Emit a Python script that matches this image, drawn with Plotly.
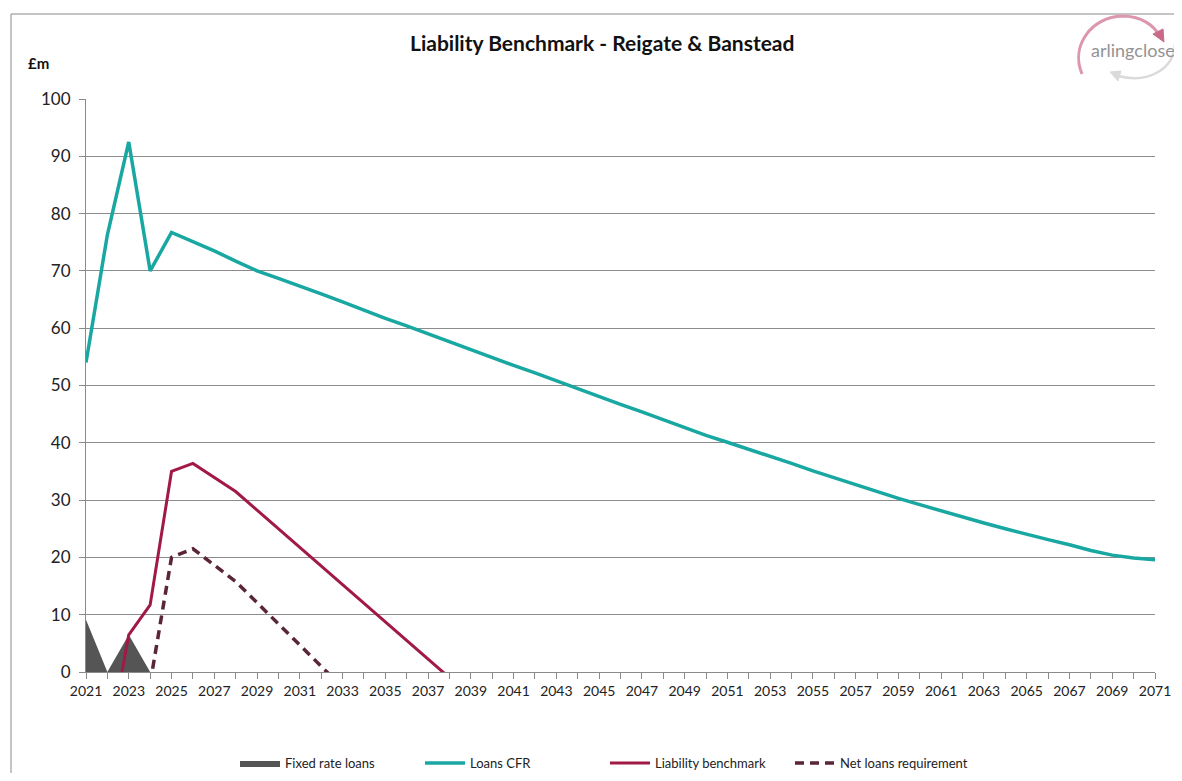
import plotly.graph_objects as go

years = list(range(2021, 2072))

fixed_rate_loans = [9.1, 0, 6.5, 0] + [0] * 47

loans_cfr = [54.0, 76.3, 92.5, 70.0, 76.7, 75.1, 73.5, 71.7, 70.0, 68.7,
             67.4, 66.0, 64.6, 63.1, 61.7, 60.4, 59.0, 57.6, 56.2, 54.8,
             53.5, 52.2, 50.8, 49.4, 48.0, 46.7, 45.4, 44.0, 42.6, 41.3,
             40.1, 38.9, 37.6, 36.4, 35.1, 33.9, 32.6, 31.4, 30.3, 29.2,
             28.1, 27.0, 26.0, 25.0, 24.0, 23.1, 22.2, 21.2, 20.4, 19.9,
             19.6]

liability_benchmark = [None, -14.0, 6.5, 11.7, 35.0, 36.4, 34.0, 31.5, 28.25, 25.0,
                       21.75, 18.5, 15.25, 12.0, 8.75, 5.5, 2.25, -1.0] + [None] * 33

net_loans_requirement = [None, None, None, -2.0, 20.0, 21.5, 18.6, 15.8, 12.1, 8.4,
                         4.7, 1.0, -2.7] + [None] * 38

y_ticks = list(range(0, 101, 10))
x_ticks = list(range(2021, 2072, 2))

# layout geometry (page pixels; the page body has an 8px margin)
OFF = 8
W, H = 1182 - 2 * OFF, 781 - 2 * OFF
PLOT_L, PLOT_R, PLOT_T, PLOT_B = 86, 1155, 99, 672   # page coords of plot area
L = PLOT_L - OFF
T = PLOT_T - OFF
PW = PLOT_R - PLOT_L
PH = PLOT_B - PLOT_T
R = W - L - PW
B = H - T - PH


def px(x, y):
    """page pixel -> paper coords"""
    return (x - PLOT_L) / PW, (PLOT_B - y) / PH


fig = go.Figure()

fig.add_trace(go.Scatter(
    x=years, y=fixed_rate_loans, name="Fixed rate loans", mode="lines",
    fill="tozeroy", fillcolor="#555555", line=dict(width=0, color="#555555"),
))
fig.add_trace(go.Scatter(
    x=years, y=loans_cfr, name="Loans CFR", mode="lines",
    line=dict(color="#19A7A2", width=3.5),
))
fig.add_trace(go.Scatter(
    x=years, y=liability_benchmark, name="Liability benchmark", mode="lines",
    line=dict(color="#A11A45", width=3),
))
fig.add_trace(go.Scatter(
    x=years, y=net_loans_requirement, name="Net loans requirement", mode="lines",
    line=dict(color="#5A2535", width=3.5, dash="9px,6px"),
))

# outer chart border
bx0, by0 = px(11, 800)
bx1, by1 = px(1200, 14)
fig.add_shape(type="rect", xref="paper", yref="paper", x0=bx0, y0=by0, x1=bx1, y1=by1,
              line=dict(color="#8a8a8a", width=1), layer="below")


def path(points):
    s = ""
    for cmd, pts in points:
        s += cmd + " " + " ".join("%.4f,%.4f" % px(*p) for p in pts) + " "
    return s


# logo arcs
pink = path([("M", [(1082, 74)]), ("C", [(1070, 45), (1092, 17), (1122, 16)]),
             ("C", [(1142, 16), (1154, 26), (1159, 35)])])
fig.add_shape(type="path", xref="paper", yref="paper", path=pink,
              line=dict(color="#DC97AD", width=3))
fig.add_shape(type="path", xref="paper", yref="paper",
              path=path([("M", [(1153, 34)]), ("L", [(1164, 42)]), ("L", [(1163, 29)]), ("Z", [])]),
              fillcolor="#C96A88", line=dict(color="#C96A88", width=1))
gray = path([("M", [(1175, 44)]), ("C", [(1174, 68), (1150, 84), (1118, 76)])])
fig.add_shape(type="path", xref="paper", yref="paper", path=gray,
              line=dict(color="#DADADA", width=2.5))
fig.add_shape(type="path", xref="paper", yref="paper",
              path=path([("M", [(1121, 71)]), ("L", [(1110, 72)]), ("L", [(1118, 81)]), ("Z", [])]),
              fillcolor="#DADADA", line=dict(color="#DADADA", width=1))

lx, ly = px(1133, 50)
fig.add_annotation(x=lx, y=ly, xref="paper", yref="paper", text="arlingclose",
                   xanchor="center", yanchor="middle",
                   showarrow=False, font=dict(family="Lato", size=18, color="#939393"))

ux, uy = px(39, 63)
fig.add_annotation(x=ux, y=uy, xref="paper", yref="paper", text="<b>£m</b>",
                   xanchor="center", yanchor="middle",
                   showarrow=False, font=dict(family="Lato", size=15, color="#111111"))

tx, ty = px(602, 42)
fig.add_annotation(x=tx, y=ty, xref="paper", yref="paper",
                   text="<b>Liability Benchmark - Reigate & Banstead</b>",
                   xanchor="center", yanchor="middle",
                   showarrow=False, font=dict(family="Lato", size=21, color="#111111"))

fig.update_layout(
    width=W, height=H,
    margin=dict(l=L, r=R, t=T, b=B, pad=0, autoexpand=False),
    paper_bgcolor="white", plot_bgcolor="white",
    font=dict(family="Lato", color="#222222"),
    showlegend=True,
    legend=dict(orientation="h", x=px(605, 0)[0], xanchor="center",
                y=px(0, 763)[1], yanchor="middle",
                font=dict(family="Lato", size=13, color="#222222"),
                bgcolor="rgba(0,0,0,0)", itemwidth=40,
                entrywidth=130, entrywidthmode="pixels"),
    hovermode=False,
)

fig.update_xaxes(
    range=[2021, 2071], tickmode="array", tickvals=x_ticks,
    ticktext=[str(v) for v in x_ticks],
    showgrid=False, zeroline=False,
    showline=True, linecolor="#8a8a8a", linewidth=1,
    ticks="outside", ticklen=6, tickcolor="#8a8a8a",
    minor=dict(dtick=1, tick0=2021, ticks="outside", ticklen=6, tickcolor="#8a8a8a", showgrid=False),
    tickfont=dict(family="Lato", size=14, color="#222222"),
)
fig.update_yaxes(
    range=[0, 100], tickmode="array", tickvals=y_ticks,
    showgrid=True, gridcolor="#8c8c8c", gridwidth=1, zeroline=False,
    showline=True, linecolor="#8a8a8a", linewidth=1,
    ticks="outside", ticklen=6, tickcolor="#8a8a8a", ticklabelstandoff=5,
    tickfont=dict(family="Lato", size=17, color="#222222"),
)

fig.write_html("out.html")
